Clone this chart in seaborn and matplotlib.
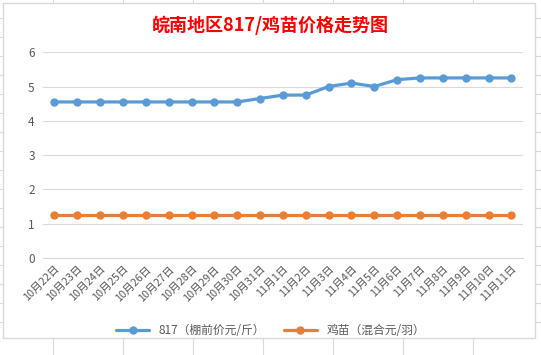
import matplotlib

matplotlib.use("Agg")

import matplotlib.pyplot as plt
import pandas as pd
import seaborn as sns
from matplotlib.lines import Line2D
from matplotlib.patches import Rectangle

dates = ["10月22日", "10月23日", "10月24日", "10月25日", "10月26日", "10月27日",
         "10月28日", "10月29日", "10月30日", "10月31日", "11月1日", "11月2日",
         "11月3日", "11月4日", "11月5日", "11月6日", "11月7日", "11月8日",
         "11月9日", "11月10日", "11月11日"]
price_817 = [4.55, 4.55, 4.55, 4.55, 4.55, 4.55, 4.55, 4.55, 4.55, 4.65, 4.75,
             4.75, 5.0, 5.1, 5.0, 5.2, 5.25, 5.25, 5.25, 5.25, 5.25]
price_chick = [1.25] * 21
name_817 = "817（棚前价元/斤）"
name_chick = "鸡苗（混合元/羽）"
y_ticks = [0, 1, 2, 3, 4, 5, 6]

sns.set_style("white")
plt.rcParams["font.family"] = ["Noto Sans CJK SC", "DejaVu Sans"]

df = pd.DataFrame({"date": dates, name_817: price_817, name_chick: price_chick})
long = df.melt(id_vars="date", var_name="series", value_name="price")

fig = plt.figure(figsize=(5.41, 3.55), dpi=100)
ax = fig.add_axes([0.0795, 0.273, 0.887, 0.58])

palette = {name_817: "#5B9BD5", name_chick: "#ED7D31"}
sns.lineplot(data=long, x="date", y="price", hue="series", palette=palette,
             marker="o", markersize=6, markeredgewidth=0, linewidth=2.3,
             sort=False, legend=False, ax=ax)

ax.set_xlim(-0.5, len(dates) - 0.5)
ax.set_ylim(0, 6)
ax.set_yticks(y_ticks)
ax.set_yticklabels([str(t) for t in y_ticks], fontsize=8.5, color="#595959")
ax.set_xticks(range(len(dates)))
ax.set_xticklabels(dates, rotation=45, ha="right", rotation_mode="anchor",
                   fontsize=7.8, color="#595959")
ax.tick_params(axis="x", length=0, pad=4)
ax.tick_params(axis="y", length=0, pad=6)
ax.set_xticks([i - 0.5 for i in range(len(dates) + 1)], minor=True)
ax.tick_params(axis="x", which="minor", length=4, color="#D9D9D9", width=0.8)
ax.grid(axis="y", color="#D9D9D9", linewidth=0.8)
ax.set_axisbelow(True)
for s in ["top", "right", "left"]:
    ax.spines[s].set_visible(False)
ax.spines["bottom"].set_color("#D9D9D9")
ax.spines["bottom"].set_linewidth(0.8)
ax.set_xlabel("")
ax.set_ylabel("")

fig.text(0.5, 0.93, "皖南地区817/鸡苗价格走势图", ha="center", va="center",
         color="#FF0000", fontsize=13, fontweight="bold")

handles = [Line2D([], [], color=palette[n], linewidth=2.3, marker="o",
                  markersize=6, markeredgewidth=0) for n in [name_817, name_chick]]
fig.legend(handles, [name_817, name_chick], loc="center", ncol=2,
           bbox_to_anchor=(0.5, 0.068), frameon=False, fontsize=8.5,
           labelcolor="#595959", handlelength=2.8, columnspacing=1.6)

# chart area border and spreadsheet grid around it
fig.add_artist(Rectangle((3 / 541, 1 - 338 / 355), 532 / 541, 335 / 355,
                         transform=fig.transFigure, fill=False,
                         edgecolor="#D9D9D9", linewidth=1.0))
for y in range(18, 340, 19):
    fig.add_artist(Line2D([0, 3 / 541], [1 - y / 355] * 2, color="#D9D9D9",
                          linewidth=0.8, transform=fig.transFigure))
    fig.add_artist(Line2D([535 / 541, 1], [1 - y / 355] * 2, color="#D9D9D9",
                          linewidth=0.8, transform=fig.transFigure))
for x in range(53, 541, 70):
    fig.add_artist(Line2D([x / 541] * 2, [1 - 3 / 355, 1], color="#D9D9D9",
                          linewidth=0.8, transform=fig.transFigure))
    fig.add_artist(Line2D([x / 541] * 2, [0, 1 - 338 / 355], color="#D9D9D9",
                          linewidth=0.8, transform=fig.transFigure))

fig.savefig("out.png", dpi=100)
plt.close(fig)
